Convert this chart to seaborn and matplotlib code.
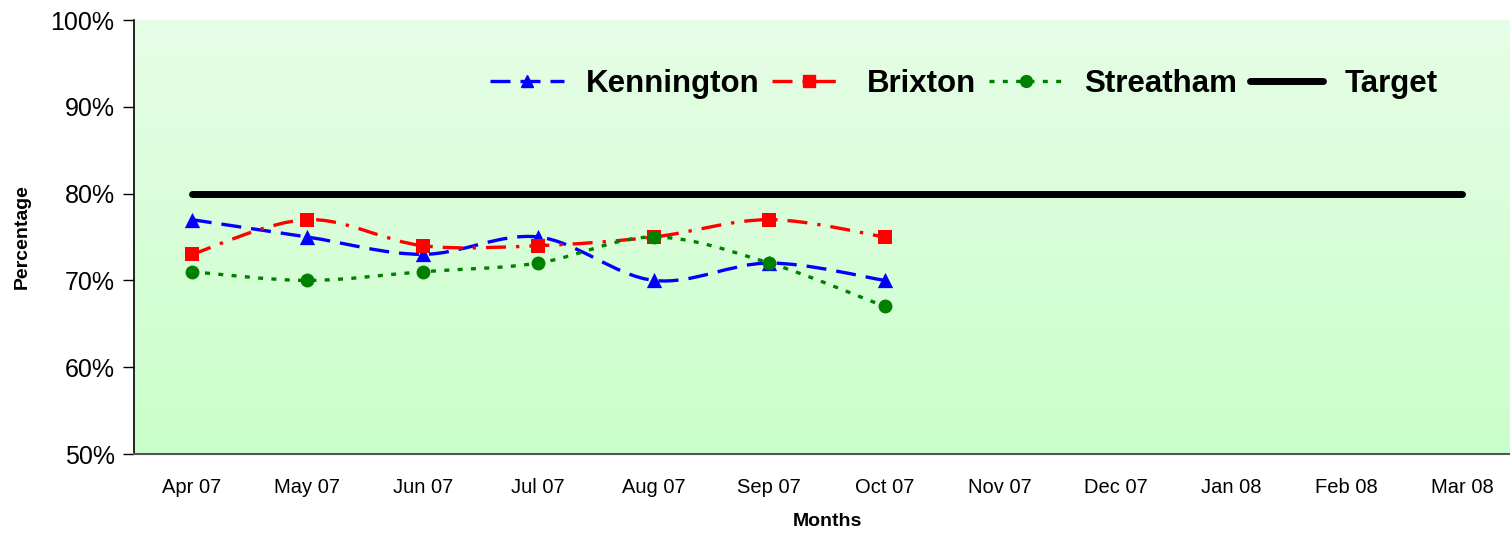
import numpy as np
import pandas as pd
import matplotlib
matplotlib.use("Agg")
import matplotlib.pyplot as plt
import seaborn as sns
from matplotlib.path import Path
from matplotlib.patches import PathPatch
from matplotlib.lines import Line2D

months = ['Apr 07', 'May 07', 'Jun 07', 'Jul 07', 'Aug 07', 'Sep 07',
          'Oct 07', 'Nov 07', 'Dec 07', 'Jan 08', 'Feb 08', 'Mar 08']
kennington = [77, 75, 73, 75, 70, 72, 70]
brixton = [73, 77, 74, 74, 75, 77, 75]
streatham = [71, 70, 71, 72, 75, 72, 67]
target = [80] * 12


def smooth_path(xs, ys):
    """Bezier path through the points, like Excel's smoothed line"""
    pts = np.column_stack([xs, ys]).astype(float)
    n = len(pts)
    verts = [pts[0]]
    codes = [Path.MOVETO]
    for i in range(n - 1):
        p0 = pts[max(i - 1, 0)]
        p1 = pts[i]
        p2 = pts[i + 1]
        p3 = pts[min(i + 2, n - 1)]
        c1 = p1 + (p2 - p0) / 6.0
        c2 = p2 - (p3 - p1) / 6.0
        verts += [c1, c2, p2]
        codes += [Path.CURVE4] * 3
    return Path(verts, codes)


sns.set_style("white")
plt.rcParams['font.family'] = ['Liberation Sans', 'DejaVu Sans']
plt.rcParams['text.color'] = 'black'
plt.rcParams['axes.labelcolor'] = 'black'
plt.rcParams['xtick.color'] = 'black'
plt.rcParams['ytick.color'] = 'black'

fig = plt.figure(figsize=(15.1, 5.33), dpi=100)
ax = fig.add_axes([134 / 1510, 1 - 454 / 533, 1386 / 1510, 434 / 533])

# gradient background of the plot area
grad = np.linspace(0, 1, 256).reshape(-1, 1)
top_c = np.array([230, 253, 230]) / 255
bot_c = np.array([202, 255, 202]) / 255
img = top_c * (1 - grad[..., None]) + bot_c * grad[..., None]
ax.imshow(img, extent=[0, 1, 0, 1], transform=ax.transAxes, aspect='auto', zorder=0)

x_all = np.arange(len(months))

series = [
    ('Kennington', kennington, 'blue', (0, (6, 3)), '^', 11),
    ('Brixton', brixton, 'red', (0, (6, 3, 1, 3)), 's', 10),
    ('Streatham', streatham, 'green', (0, (1.5, 2.5)), 'o', 10),
]

handles = []
for name, vals, color, ls, mk, ms in series:
    xs = x_all[:len(vals)]
    patch = PathPatch(smooth_path(xs, vals), facecolor='none', edgecolor=color,
                      linewidth=2.4, linestyle=ls, zorder=3)
    ax.add_patch(patch)
    df = pd.DataFrame({'x': xs, 'y': vals})
    sns.scatterplot(data=df, x='x', y='y', ax=ax, color=color, marker=mk,
                    s=ms ** 2, edgecolor=color, linewidth=0, zorder=4)
    handles.append(Line2D([], [], color=color, linestyle=ls, linewidth=2.4,
                          marker=mk, markersize=ms * 0.85, label=name))

df_t = pd.DataFrame({'x': x_all, 'y': target})
sns.lineplot(data=df_t, x='x', y='y', ax=ax, color='black', linewidth=5,
             solid_capstyle='round', zorder=3)
handles.append(Line2D([], [], color='black', linewidth=5, solid_capstyle='round',
                      label='Target'))

ax.set_xlim(-0.5, len(months) - 0.5)
ax.set_ylim(50, 100)
ax.set_yticks(range(50, 101, 10))
ax.set_yticklabels([f'{v}%' for v in range(50, 101, 10)], fontsize=18)
ax.set_xticks(x_all)
ax.set_xticklabels(months, fontsize=14.5)
ax.set_xticks(np.arange(-0.5, len(months), 1), minor=True)
ax.tick_params(axis='x', which='major', length=0, pad=17)
ax.tick_params(axis='x', which='minor', length=7, width=1, color='#333333', direction='out')
ax.tick_params(axis='y', length=8, width=1, color='black', direction='out', pad=6, left=True)

for side in ['top', 'right']:
    ax.spines[side].set_visible(False)
ax.spines['left'].set_color('black')
ax.spines['left'].set_linewidth(1.2)
ax.spines['bottom'].set_color('#555555')
ax.spines['bottom'].set_linewidth(1.5)

ax.set_xlabel('Months', fontsize=14, fontweight='bold', labelpad=12)
ax.set_ylabel('Percentage', fontsize=14, fontweight='bold', labelpad=14)

ax.legend(handles=handles, loc='center', bbox_to_anchor=(0.599, 0.852), ncol=4,
          frameon=False, prop={'weight': 'bold', 'size': 22.5},
          handlelength=2.35, handletextpad=0.7, columnspacing=0.4)

fig.savefig('out.png', dpi=100)
plt.close(fig)
